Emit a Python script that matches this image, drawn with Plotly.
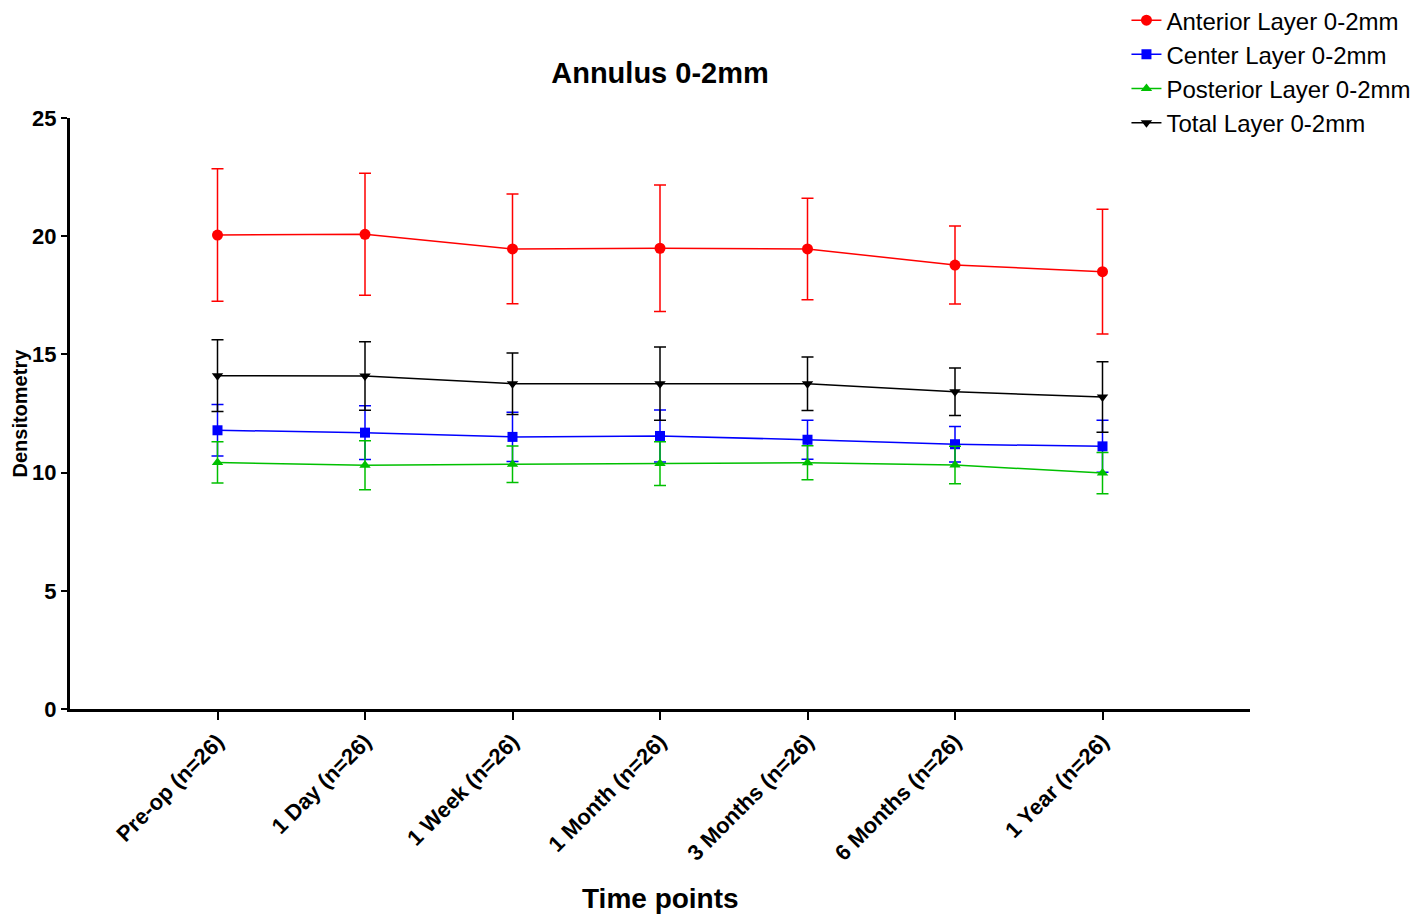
import plotly.graph_objects as go

timepoints = ["Pre-op (n=26)", "1 Day (n=26)", "1 Week (n=26)", "1 Month (n=26)",
              "3 Months (n=26)", "6 Months (n=26)", "1 Year (n=26)"]

anterior_mean = [20.05, 20.08, 19.46, 19.49, 19.46, 18.78, 18.50]
anterior_err = [2.80, 2.58, 2.32, 2.68, 2.15, 1.65, 2.64]

center_mean = [11.79, 11.69, 11.51, 11.55, 11.39, 11.20, 11.11]
center_err = [1.09, 1.14, 1.04, 1.10, 0.82, 0.75, 1.10]

posterior_mean = [10.43, 10.31, 10.35, 10.38, 10.42, 10.32, 9.98]
posterior_err = [0.87, 1.04, 0.77, 0.93, 0.72, 0.79, 0.87]

total_mean = [14.10, 14.09, 13.76, 13.76, 13.76, 13.42, 13.20]
total_err = [1.52, 1.45, 1.30, 1.55, 1.13, 1.00, 1.49]

series = [
    ("Anterior Layer 0-2mm", anterior_mean, anterior_err, "#ff0000", "circle", 11),
    ("Center Layer 0-2mm", center_mean, center_err, "#0000ff", "square", 10),
    ("Posterior Layer 0-2mm", posterior_mean, posterior_err, "#00c000", "triangle-up", 10),
    ("Total Layer 0-2mm", total_mean, total_err, "#000000", "triangle-down", 10),
]

font = "Liberation Sans, Arial, sans-serif"

fig = go.Figure()
for name, mean, err, color, symbol, size in series:
    fig.add_trace(go.Scatter(
        x=timepoints,
        y=mean,
        name=name,
        mode="lines+markers",
        line=dict(color=color, width=1.5),
        marker=dict(color=color, symbol=symbol, size=size),
        error_y=dict(type="data", array=err, visible=True, color=color,
                     thickness=1.5, width=6),
    ))

# page body has an 8px margin, so the figure is placed 8px in from the top-left
fig.update_layout(
    width=1418,
    height=917,
    plot_bgcolor="white",
    paper_bgcolor="white",
    margin=dict(l=62, r=176, t=110, b=216, autoexpand=False),
    font=dict(family=font, color="black"),
    title=dict(text="<b>Annulus 0-2mm</b>", x=0.5, xref="paper",
               y=1 - 65 / 917, yref="container", yanchor="middle",
               font=dict(size=29, family=font, color="black")),
    legend=dict(x=0.8953, y=1.203, xanchor="left", yanchor="top",
                font=dict(size=24, family=font), tracegroupgap=0,
                bgcolor="rgba(0,0,0,0)"),
    showlegend=True,
)

fig.update_xaxes(
    type="category",
    range=[-1, 7],
    showline=True, linecolor="black", linewidth=3,
    ticks="outside", ticklen=8, tickwidth=2, tickcolor="black",
    tickangle=-45,
    tickfont=dict(size=22, family=font, color="black", weight="bold"),
    showgrid=False, zeroline=False,
)
fig.update_yaxes(
    range=[0, 25],
    tickvals=[0, 5, 10, 15, 20, 25],
    showline=True, linecolor="black", linewidth=3,
    ticks="outside", ticklen=6, tickwidth=2, tickcolor="black",
    tickfont=dict(size=22, family=font, color="black", weight="bold"),
    showgrid=False, zeroline=False,
)

fig.add_annotation(text="<b>Time points</b>", x=0.5, y=(701 - 890) / 591,
                   xref="paper", yref="paper", showarrow=False,
                   yanchor="middle", font=dict(size=28, family=font, color="black"))
fig.add_annotation(text="<b>Densitometry</b>", x=(11 - 62) / 1180, y=0.5,
                   xref="paper", yref="paper", showarrow=False, textangle=-90,
                   xanchor="center", yanchor="middle",
                   font=dict(size=20, family=font, color="black"))

fig.write_html("out.html")
